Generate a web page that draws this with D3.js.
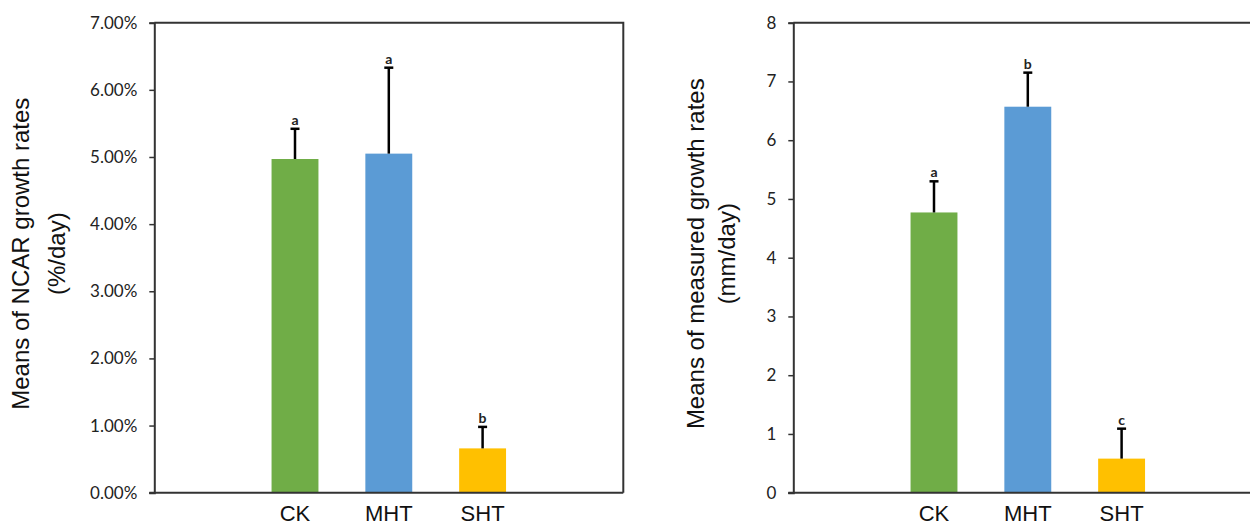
<!DOCTYPE html>
<html>
<head>
<meta charset="utf-8">
<script src="https://cdn.jsdelivr.net/npm/d3@7"></script>
<style>
  body { margin: 0; background: #fff; }
  .tick text { font-family: Lato, "Open Sans", sans-serif; font-size: 17px; fill: #222; }
  .title { font-family: "Liberation Sans", Arial, sans-serif; font-size: 24px; fill: #111; }
  .cat { font-family: "Liberation Sans", Arial, sans-serif; font-size: 22px; fill: #111; }
  .sig { font-family: Lato, "Open Sans", sans-serif; font-size: 14px; font-weight: bold; fill: #222; }
</style>
</head>
<body>
<script>
// data
var categories = ["CK", "MHT", "SHT"];
var colors = ["#70ad47", "#5b9bd5", "#ffc000"];

var ncarMeans = [0.0497, 0.0505, 0.0066];
var ncarErr = [0.0045, 0.0128, 0.0032];
var ncarLetters = ["a", "a", "b"];
var ncarTicks = [0, 0.01, 0.02, 0.03, 0.04, 0.05, 0.06, 0.07];

var measMeans = [4.77, 6.57, 0.58];
var measErr = [0.53, 0.58, 0.51];
var measLetters = ["a", "b", "c"];
var measTicks = [0, 1, 2, 3, 4, 5, 6, 7, 8];

var svg = d3.select("body").append("svg")
    .attr("width", 1250)
    .attr("height", 526);

function panel(left, means, errs, letters, ticks, fmt, title1, title2, titleX, lineGap) {
  var top = 22.7, bottom = 492.7, width = 469;

  var x = d3.scaleBand().domain(categories)
      .range([left, left + width])
      .paddingInner(0.5).paddingOuter(1.25);
  var y = d3.scaleLinear().domain([ticks[0], ticks[ticks.length - 1]])
      .range([bottom, top]);

  var g = svg.append("g");

  // bars
  g.selectAll(".bar")
    .data(means)
    .enter().append("rect")
      .attr("x", function(d, i) { return x(categories[i]); })
      .attr("width", x.bandwidth())
      .attr("y", function(d) { return y(d); })
      .attr("height", function(d) { return bottom - y(d); })
      .attr("fill", function(d, i) { return colors[i]; });

  // error bars (upper only)
  var cx = function(i) { return x(categories[i]) + x.bandwidth() / 2; };
  g.selectAll(".err")
    .data(means)
    .enter().append("line")
      .attr("x1", function(d, i) { return cx(i); })
      .attr("x2", function(d, i) { return cx(i); })
      .attr("y1", function(d) { return y(d); })
      .attr("y2", function(d, i) { return y(d + errs[i]); })
      .attr("stroke", "#000").attr("stroke-width", 2.5);
  g.selectAll(".cap")
    .data(means)
    .enter().append("line")
      .attr("x1", function(d, i) { return cx(i) - 4.5; })
      .attr("x2", function(d, i) { return cx(i) + 4.5; })
      .attr("y1", function(d, i) { return y(d + errs[i]); })
      .attr("y2", function(d, i) { return y(d + errs[i]); })
      .attr("stroke", "#000").attr("stroke-width", 2.5);
  g.selectAll(".sig")
    .data(letters)
    .enter().append("text")
      .attr("class", "sig")
      .attr("x", function(d, i) { return cx(i); })
      .attr("y", function(d, i) { return y(means[i] + errs[i]) - 4; })
      .attr("text-anchor", "middle")
      .text(function(d) { return d; });

  // frame top and right
  g.append("path")
    .attr("d", "M" + left + "," + top + "H" + (left + width) + "V" + bottom)
    .attr("fill", "none").attr("stroke", "#333").attr("stroke-width", 2);

  // y axis
  var ya = g.append("g")
    .attr("transform", "translate(" + left + ",0)")
    .call(d3.axisLeft(y).tickValues(ticks).tickFormat(fmt).tickSize(5).tickPadding(12));
  ya.select(".domain").attr("stroke", "#333").attr("stroke-width", 2);
  ya.selectAll(".tick line").attr("stroke", "#333").attr("stroke-width", 1.5);

  // x axis line
  g.append("line")
    .attr("x1", left - 5).attr("x2", left + width)
    .attr("y1", bottom).attr("y2", bottom)
    .attr("stroke", "#333").attr("stroke-width", 2);

  // category labels
  g.selectAll(".cat")
    .data(categories)
    .enter().append("text")
      .attr("class", "cat")
      .attr("x", function(d) { return x(d) + x.bandwidth() / 2; })
      .attr("y", 521)
      .attr("text-anchor", "middle")
      .text(function(d) { return d; });

  // axis title
  var t = g.append("text")
    .attr("class", "title")
    .attr("transform", "translate(" + titleX + "," + ((top + bottom) / 2 - 4) + ") rotate(-90)")
    .attr("text-anchor", "middle");
  t.append("tspan").attr("x", 0).attr("y", 0).text(title1);
  t.append("tspan").attr("x", 0).attr("y", lineGap).text(title2);
}

panel(154.3, ncarMeans, ncarErr, ncarLetters, ncarTicks, d3.format(".2%"),
      "Means of NCAR growth rates", "(%/day)", 29, 36);
panel(793.3, measMeans, measErr, measLetters, measTicks, d3.format("d"),
      "Means of measured growth rates", "(mm/day)", 704, 31);
</script>
</body>
</html>
